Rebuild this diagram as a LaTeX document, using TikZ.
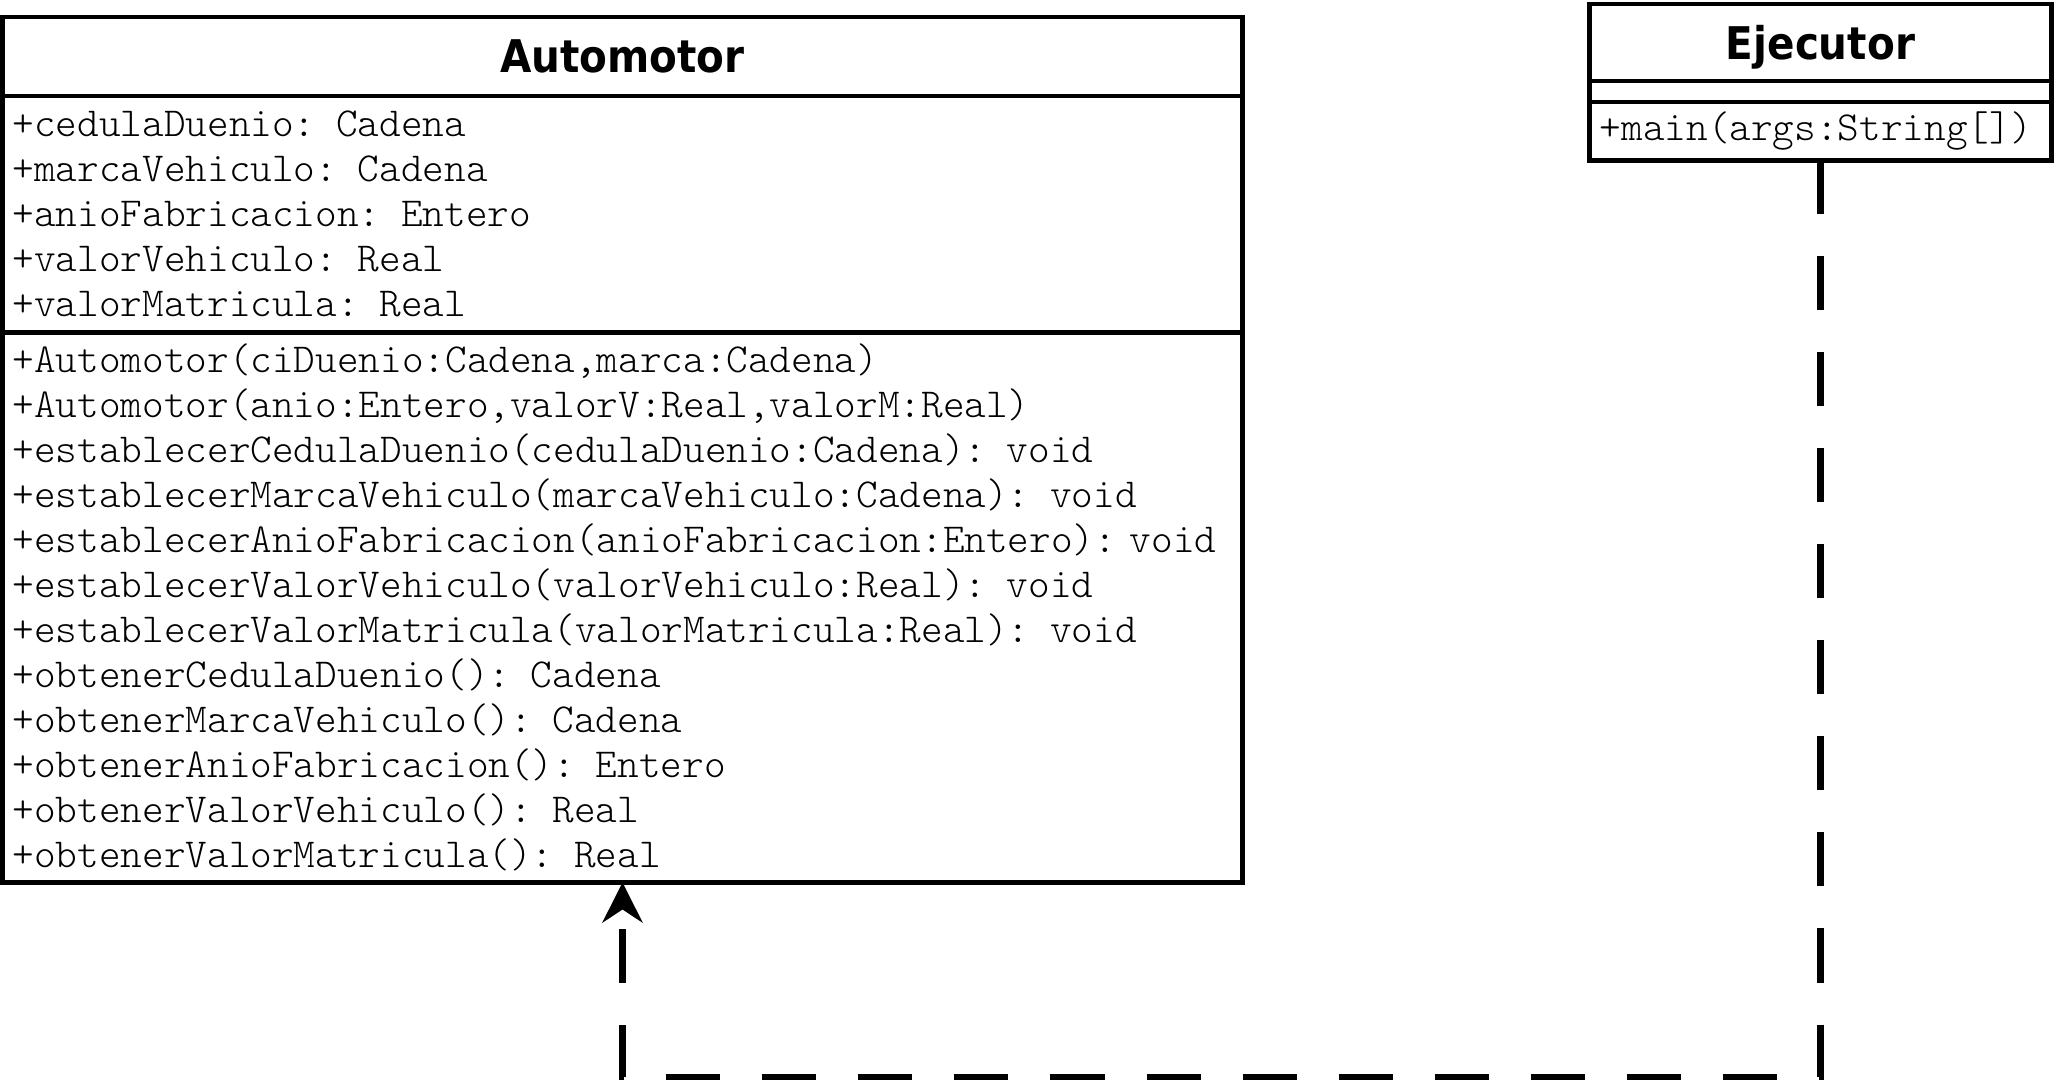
\documentclass[tikz,border=0pt]{standalone}
\usepackage{fontspec}
\setmonofont{Latin Modern Mono Light}
\newfontfamily\titlefont{DejaVu Sans Condensed Bold}
\usetikzlibrary{arrows.meta}
\begin{document}
\begin{tikzpicture}[x=0.01cm,y=-0.01cm,
    box/.style={draw,line width=1.4pt,inner sep=0pt,outer sep=0pt},
    title/.style={box,text depth=0pt,font=\titlefont\fontsize{12.8pt}{15pt}\selectfont},
    members/.style={box,align=left,inner xsep=0.1cm,
      font=\ttfamily\fontsize{11.72pt}{12.8pt}\selectfont},
    dep/.style={line width=1.8pt,dash pattern=on 0.54cm off 0.42cm,
      -{Stealth[length=0.4cm,width=0.4cm]}}]
  \useasboundingbox (0,0) rectangle (2056,1080);
  % class Automotor
  \node[title,minimum width=12.39cm,minimum height=0.79cm] (autt) at (622.5,56.5) {Automotor};
  \node[members,anchor=north,text width=12.19cm,minimum height=2.36cm] (auta) at (autt.south)
    {+cedulaDuenio: Cadena\\+marcaVehiculo: Cadena\\+anioFabricacion: Entero\\+valorVehiculo: Real\\+valorMatricula: Real};
  \node[members,anchor=north,text width=12.19cm,minimum height=5.50cm] (autm) at (auta.south)
    {+Automotor(ciDuenio:Cadena,marca:Cadena)\\
     +Automotor(anio:Entero,valorV:Real,valorM:Real)\\
     +establecerCedulaDuenio(cedulaDuenio:Cadena): void\\
     +establecerMarcaVehiculo(marcaVehiculo:Cadena): void\\
     +establecerAnioFabricacion(anioFabricacion:Entero):~void\\
     +establecerValorVehiculo(valorVehiculo:Real): void\\
     +establecerValorMatricula(valorMatricula:Real): void\\
     +obtenerCedulaDuenio(): Cadena\\
     +obtenerMarcaVehiculo(): Cadena\\
     +obtenerAnioFabricacion(): Entero\\
     +obtenerValorVehiculo(): Real\\
     +obtenerValorMatricula(): Real};
  % class Ejecutor
  \node[title,minimum width=4.61cm,minimum height=0.77cm] (ejet) at (1820.5,42.5) {Ejecutor};
  \node[box,anchor=north,minimum width=4.61cm,minimum height=0.21cm] (ejea) at (ejet.south) {};
  \node[members,anchor=north,text width=4.41cm,minimum height=0.58cm] (ejem) at (ejea.south)
    {+main(args:String[])};
  % dependency
  \coordinate (bend) at (622.5,1077);
  \draw[dep] (ejem.south) |- (bend) -- (autm.south);
\end{tikzpicture}
\end{document}
